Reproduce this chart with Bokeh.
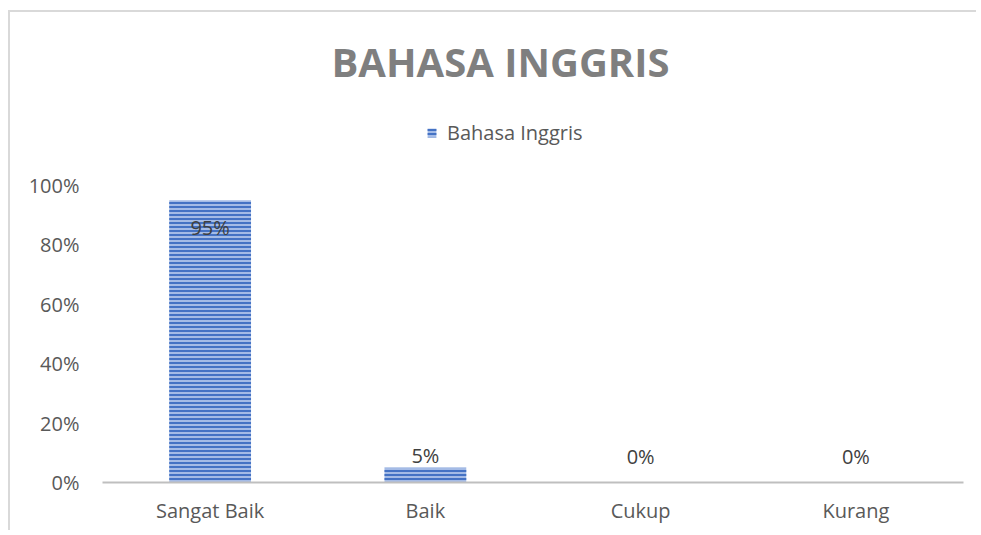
from bokeh.plotting import figure
from bokeh.models import ColumnDataSource, FixedTicker, Label, LabelSet, Legend, LegendItem
from bokeh.core.properties import value
from bokeh.embed import file_html
from bokeh.resources import INLINE

categories = ["Sangat Baik", "Baik", "Cukup", "Kurang"]
values = [95, 5, 0, 0]
value_labels = ["95%", "5%", "0%", "0%"]
y_ticks = [0, 20, 40, 60, 80, 100]
y_tick_labels = ["0%", "20%", "40%", "60%", "80%", "100%"]
series_name = "Bahasa Inggris"
title_text = "BAHASA INGGRIS"

FONT = "Open Sans"
xs = list(range(len(categories)))
offsets = [-27 if v >= 50 else (12 if v > 0 else 26) for v in values]

src = ColumnDataSource(dict(x=xs, top=values, lab=value_labels, dy=offsets))

H = 520
MB = 50
px_per_unit = (482 - 185) / 100.0
y_end = (H - MB) / px_per_unit

p = figure(width=968, height=H, output_backend="svg", toolbar_location=None,
           x_range=(-0.5, 3.5), y_range=(0, y_end),
           min_border_left=92, min_border_right=15, min_border_top=0, min_border_bottom=MB)
p.styles = {"border-left": "2px solid #d9d9d9", "border-top": "2px solid #d9d9d9",
            "margin-top": "10px", "margin-left": "8px"}
p.outline_line_color = None
p.background_fill_color = "white"
p.border_fill_color = "white"
p.grid.visible = False

bars = p.vbar(x="x", top="top", width=0.38, bottom=0, source=src,
              fill_color="#a4bbe6", line_color=None,
              hatch_pattern="horizontal_line", hatch_color="#4472c4",
              hatch_scale=4, hatch_weight=2)

# axes
p.xaxis.ticker = FixedTicker(ticks=xs)
p.xaxis.major_label_overrides = {i: c for i, c in zip(xs, categories)}
p.xaxis.axis_line_color = "#bfbfbf"
p.xaxis.axis_line_width = 2
p.xaxis.major_tick_line_color = None
p.xaxis.minor_tick_line_color = None
p.xaxis.major_label_standoff = 8
p.xaxis.major_label_text_font = FONT
p.xaxis.major_label_text_font_size = "20px"
p.xaxis.major_label_text_color = "#595959"

p.yaxis.ticker = FixedTicker(ticks=y_ticks)
p.yaxis.major_label_overrides = {t: l for t, l in zip(y_ticks, y_tick_labels)}
p.yaxis.axis_line_color = None
p.yaxis.major_tick_line_color = None
p.yaxis.minor_tick_line_color = None
p.yaxis.major_label_standoff = 17
p.yaxis.major_label_text_font = FONT
p.yaxis.major_label_text_font_size = "20px"
p.yaxis.major_label_text_color = "#595959"

# data labels
labels = LabelSet(x="x", y="top", text="lab", source=src, y_offset="dy",
                  text_align="center", text_baseline="middle",
                  text_font=value(FONT), text_font_size=value("20px"),
                  text_color="#404040")
p.add_layout(labels)

# title
title = Label(x=1.349, y=(482 - 61) / px_per_unit, text=title_text,
              text_align="center", text_baseline="middle",
              text_font=FONT, text_font_size="40px", text_font_style="bold",
              text_color="#7f7f7f")
p.add_layout(title)

legend = Legend(items=[LegendItem(label=series_name, renderers=[bars])],
                location=(324, 336), orientation="horizontal",
                padding=0, margin=0, spacing=0,
                glyph_width=11, glyph_height=11, label_standoff=10,
                label_text_font=FONT, label_text_font_size="20px",
                label_text_color="#595959",
                background_fill_alpha=0, border_line_color=None)
p.add_layout(legend)

open("out.html", "w").write(file_html(p, INLINE))
